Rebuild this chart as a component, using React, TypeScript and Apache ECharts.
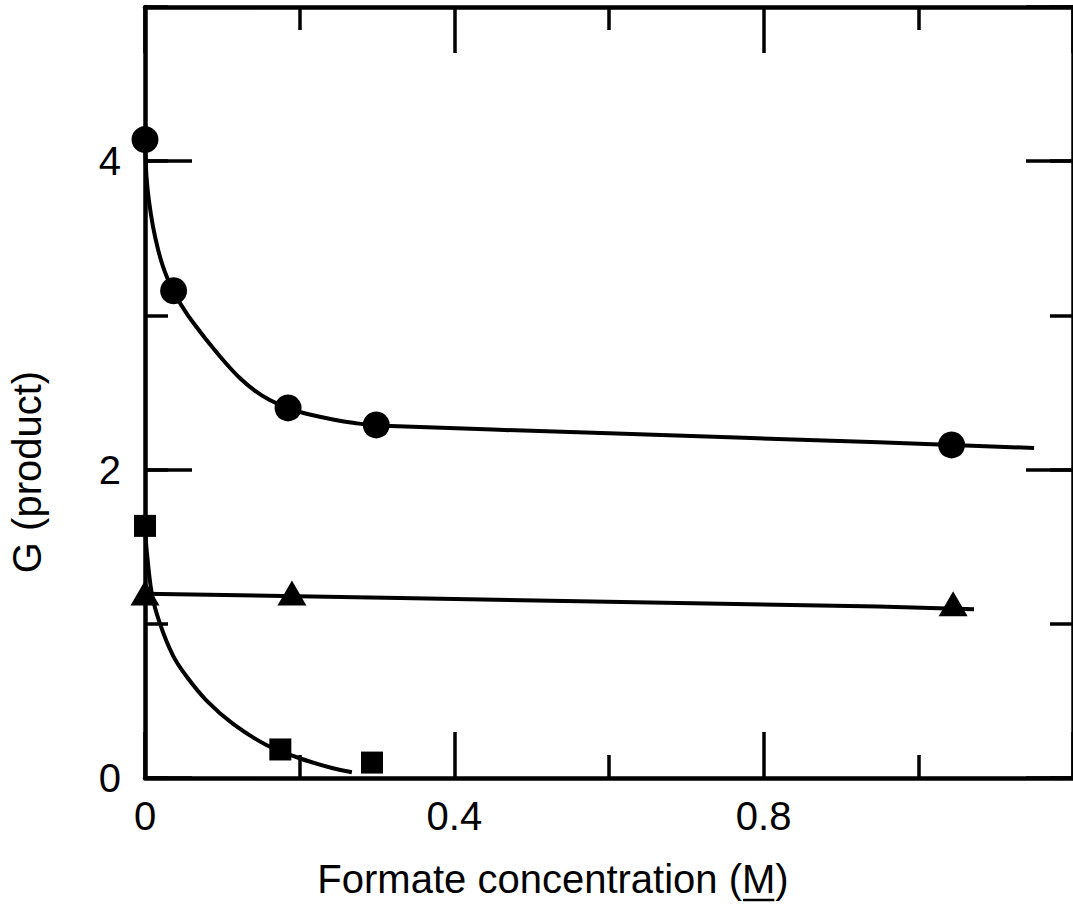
import React, { useEffect, useRef } from "react";
import * as echarts from "echarts";

// ---- data ----
const circlePoints = [
  [0, 4.14],
  [0.037, 3.16],
  [0.185, 2.4],
  [0.299, 2.29],
  [1.043, 2.16],
];
const circleCurve = [
  [0, 4.136],
  [0.0019, 3.903],
  [0.0052, 3.74],
  [0.0103, 3.578],
  [0.0168, 3.429],
  [0.0232, 3.318],
  [0.0301, 3.227],
  [0.0374, 3.149],
  [0.0542, 3.01],
  [0.071, 2.896],
  [0.0877, 2.79],
  [0.1054, 2.685],
  [0.1226, 2.594],
  [0.1419, 2.512],
  [0.1613, 2.451],
  [0.1849, 2.399],
  [0.2129, 2.357],
  [0.243, 2.325],
  [0.271, 2.302],
  [0.299, 2.286],
  [0.6, 2.235],
  [0.9484, 2.177],
  [1.1497, 2.14],
];
const trianglePoints = [
  [0, 1.2],
  [0.19, 1.2],
  [1.045, 1.13],
];
const triangleCurve = [
  [0, 1.195],
  [0.329, 1.167],
  [0.948, 1.112],
  [1.072, 1.095],
];
const squarePoints = [
  [0, 1.635],
  [0.175, 0.185],
  [0.2935, 0.1],
];
const squareCurve = [
  [0, 1.636],
  [0.0021, 1.481],
  [0.0086, 1.201],
  [0.019, 1.006],
  [0.0364, 0.792],
  [0.0538, 0.658],
  [0.0796, 0.502],
  [0.1139, 0.351],
  [0.157, 0.214],
  [0.2, 0.128],
  [0.243, 0.063],
  [0.2675, 0.037],
];
const xRange = [0, 1.2];
const yRange = [0, 5];
const xMajor = 0.4;
const yMajor = 2;
const yMinor = 1;
const xTitle = "Formate concentration (M)";
const xTitleUnderlined = "M";
const yTitle = "G (product)";

const FONT = '"Liberation Sans", Arial, sans-serif';
const FS = 40;
const TFS = 40;

export default function App() {
  const ref = useRef<HTMLDivElement>(null);
  useEffect(() => {
    if (!ref.current) return;
    const chart = echarts.init(ref.current, undefined, { renderer: "svg" });

    const black = "#000";
    const baseX = {
      type: "value" as const,
      min: xRange[0],
      max: xRange[1],
      interval: xMajor,
      splitLine: { show: false },
      axisLine: { show: true, onZero: false, lineStyle: { color: black, width: 4.5 } },
      axisTick: { show: true, inside: true, length: 46, lineStyle: { color: black, width: 3.5 } },
      minorTick: { show: true, splitNumber: 2, length: 23, lineStyle: { color: black, width: 3.5 } },
    };
    const majorY = {
      type: "value" as const,
      min: yRange[0],
      max: yRange[1],
      interval: yMajor,
      splitLine: { show: false },
      axisLine: { show: true, onZero: false, lineStyle: { color: black, width: 4.5 } },
      axisTick: { show: true, inside: true, length: 47, lineStyle: { color: black, width: 3.5 } },
    };
    const minorY = {
      type: "value" as const,
      min: yRange[0],
      max: yRange[1],
      interval: yMinor,
      splitLine: { show: false },
      axisLine: { show: false, onZero: false },
      axisLabel: { show: false },
      axisTick: { show: true, inside: true, length: 23, lineStyle: { color: black, width: 3.5 } },
    };

    // measure for the underline under "M"
    const cv = document.createElement("canvas");
    const ctx = cv.getContext("2d")!;
    ctx.font = `${TFS}px ${FONT}`;
    const full = ctx.measureText(xTitle).width;
    const idx = xTitle.lastIndexOf(xTitleUnderlined);
    const pre = ctx.measureText(xTitle.slice(0, idx)).width;
    const mw = ctx.measureText(xTitleUnderlined).width;
    const titleCx = 553;
    const titleCy = 879;
    const ux1 = titleCx - full / 2 + pre + 1;
    const ux2 = ux1 + mw - 2;

    const lineBase = {
      type: "line" as const,
      showSymbol: false,
      symbol: "none",
      lineStyle: { color: black, width: 4 },
      z: 2,
      silent: true,
    };
    const scatterBase = {
      type: "scatter" as const,
      itemStyle: { color: black, opacity: 1 },
      z: 3,
      silent: true,
    };

    chart.setOption({
      animation: false,
      backgroundColor: "#fff",
      grid: { left: 145, right: -2, top: 7, bottom: 128, containLabel: false },
      xAxis: [
        {
          ...baseX,
          position: "bottom",
          axisLabel: {
            show: true,
            color: black,
            fontSize: FS,
            fontFamily: FONT,
            margin: 18,
            showMaxLabel: false,
            formatter: (v: number) => String(Math.round(v * 10) / 10),
          },
        },
        { ...baseX, position: "top", axisLabel: { show: false } },
      ],
      yAxis: [
        {
          ...majorY,
          position: "left",
          axisLabel: {
            show: true,
            color: black,
            fontSize: FS,
            fontFamily: FONT,
            margin: 24,
            showMaxLabel: false,
            formatter: (v: number) => (v % 2 === 0 ? String(v) : ""),
          },
        },
        { ...minorY, position: "left" },
        { ...majorY, position: "right", axisLabel: { show: false } },
        { ...minorY, position: "right" },
      ],
      graphic: [
        {
          type: "text",
          x: titleCx,
          y: titleCy,
          style: {
            text: xTitle,
            font: `${TFS}px ${FONT}`,
            fill: black,
            align: "center",
            verticalAlign: "middle",
            textAlign: "center",
            textVerticalAlign: "middle",
          },
        },
        {
          type: "line",
          shape: { x1: ux1, y1: 900, x2: ux2, y2: 900 },
          style: { stroke: black, lineWidth: 2.5 },
        },
        {
          type: "text",
          x: 27,
          y: 472,
          rotation: Math.PI / 2,
          style: {
            text: yTitle,
            font: `${TFS}px ${FONT}`,
            fill: black,
            align: "center",
            verticalAlign: "middle",
            textAlign: "center",
            textVerticalAlign: "middle",
          },
        },
      ],
      series: [
        { ...lineBase, data: circleCurve, smooth: 0.3 },
        { ...lineBase, data: triangleCurve },
        { ...lineBase, data: squareCurve, smooth: 0.3 },
        { ...scatterBase, data: circlePoints, symbol: "circle", symbolSize: 27 },
        { ...scatterBase, data: trianglePoints, symbol: "triangle", symbolSize: [29, 25] },
        { ...scatterBase, data: squarePoints, symbol: "rect", symbolSize: 22 },
      ],
    });
    return () => chart.dispose();
  }, []);

  return (
    <div
      ref={ref}
      style={{ position: "absolute", left: 0, top: 0, width: 1073, height: 906, background: "#fff" }}
    />
  );
}
